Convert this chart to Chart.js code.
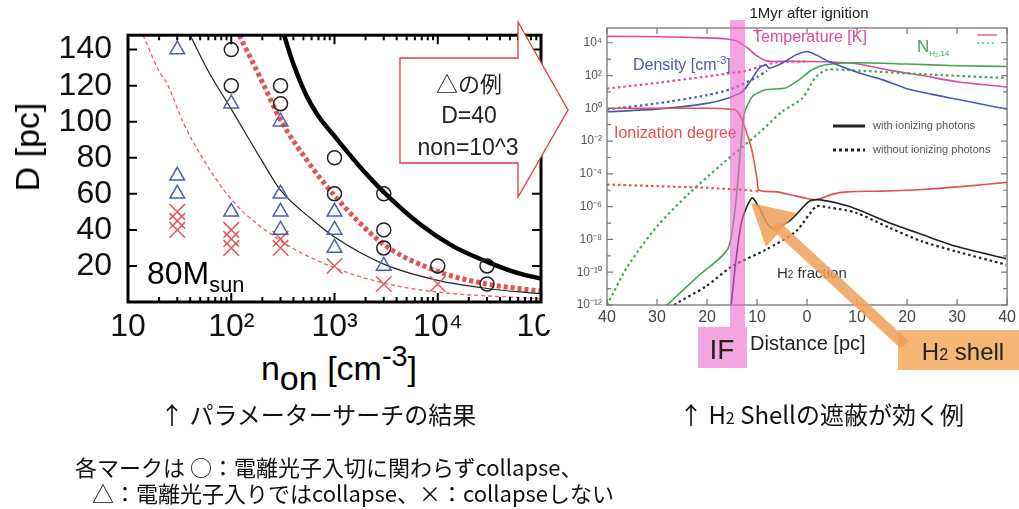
<!DOCTYPE html>
<html>
<head>
<meta charset="utf-8">
<script src="https://cdn.jsdelivr.net/npm/chart.js@4.4.1/dist/chart.umd.min.js"></script>
<style>
  body { margin: 0; width: 1019px; height: 509px; background: #fff; position: relative; overflow: hidden;
         font-family: "Liberation Sans", Arial, sans-serif; }
  #left { position: absolute; left: 0; top: 0; width: 600px; height: 340px; }
  #right { position: absolute; left: 545px; top: 0; width: 474px; height: 330px; background: #fff; }
  .t { position: absolute; white-space: nowrap; line-height: 1; }
  .jp { font-family: "Noto Sans CJK JP", sans-serif; color: #111; }
  svg { position: absolute; left: 0; top: 0; }
</style>
</head>
<body>
<div id="left"><canvas id="cLeft"></canvas></div>
<div id="right"><canvas id="cRight"></canvas></div>

<!-- left panel texts -->
<div class="t" style="left:27px;top:147px;font-size:34px;transform:translate(-50%,-50%) rotate(-90deg);">D [pc]</div>
<div class="t" style="left:339px;top:351px;font-size:34px;transform:translateX(-50%);">n<span style="position:relative;top:0.28em;">on</span> [cm<span style="position:relative;top:-0.5em;font-size:0.85em;">-3</span>]</div>
<div class="t" style="left:147px;top:257px;font-size:32px;">80M<span style="position:relative;top:0.35em;font-size:0.68em;">sun</span></div>

<!-- right panel texts -->
<div class="t" style="left:809px;top:5px;font-size:15px;color:#222;transform:translateX(-50%);">1Myr after ignition</div>
<div class="t" style="left:753px;top:29px;font-size:16px;color:#e0479e;">Temperature [K]</div>
<div class="t" style="left:917px;top:38px;font-size:17px;color:#3eaa50;">N<span style="font-size:8px;position:relative;top:4px;">H₂,14</span></div>
<div class="t" style="left:633px;top:57px;font-size:16px;color:#4a58b5;">Density [cm<span style="font-size:11px;position:relative;top:-6px;">-3</span>]</div>
<div class="t" style="left:614px;top:125px;font-size:16px;color:#e2524c;">Ionization degree</div>
<div class="t" style="left:777px;top:265px;font-size:15px;color:#333;">H<span style="font-size:10px;">2</span> fraction</div>
<div class="t" style="left:873px;top:120px;font-size:11px;color:#555;">with ionizing photons</div>
<div class="t" style="left:873px;top:144px;font-size:11px;color:#555;">without ionizing photons</div>
<div class="t" style="left:750px;top:333px;font-size:20px;color:#222;">Distance [pc]</div>

<svg width="1019" height="509">
  <!-- legend marks in the right panel -->
  <line x1="833" y1="126" x2="865" y2="126" stroke="#222" stroke-width="3"/>
  <line x1="833" y1="150" x2="865" y2="150" stroke="#222" stroke-width="3" stroke-dasharray="3,3"/>
  <line x1="977" y1="35" x2="997" y2="35" stroke="#f08a9c" stroke-width="2"/>
  <line x1="977" y1="43" x2="997" y2="43" stroke="#8fd49a" stroke-width="2" stroke-dasharray="2,3"/>
  <!-- big callout arrow -->
  <polygon points="400,58 518,58 518,22 568,110 518,197 518,163 400,163" fill="#fff" stroke="#e23b3b" stroke-width="1.3"/>
  <!-- IF band -->
  <rect x="730" y="20" width="15" height="307" fill="rgba(237,103,203,0.6)"/>
  <rect x="698" y="327" width="49" height="41" fill="#f3a6df"/>
  <!-- H2 shell box and arrow -->
  <rect x="898" y="330" width="121" height="40" fill="#f6b676"/>
  <line x1="905" y1="345" x2="775" y2="225" stroke="rgba(238,160,90,0.85)" stroke-width="11"/>
  <polygon points="751,203 796,213 766,247" fill="rgba(238,160,90,0.85)"/>
</svg>

<div class="t" style="left:469px;top:71px;font-size:22px;transform:translateX(-50%);font-family:'Noto Sans CJK JP',sans-serif;color:#222;">△の例</div>
<div class="t" style="left:469px;top:104px;font-size:23px;transform:translateX(-50%);color:#222;">D=40</div>
<div class="t" style="left:468px;top:136px;font-size:23px;transform:translateX(-50%);color:#222;">non=10^3</div>
<div class="t" style="left:722px;top:336px;font-size:28px;transform:translateX(-50%);color:#222;">IF</div>
<div class="t" style="left:963px;top:340px;font-size:24px;transform:translateX(-50%);color:#222;">H<span style="font-size:16px;">2</span> shell</div>

<!-- captions -->
<div class="t jp" style="left:160px;top:402px;font-size:24px;">↑ パラメーターサーチの結果</div>
<div class="t jp" style="left:679px;top:402px;font-size:24px;">↑ H<span style="font-size:16px;">2</span> Shellの遮蔽が効く例</div>
<div class="t jp" style="left:75px;top:455px;font-size:22px;">各マークは ○：電離光子入切に関わらずcollapse、</div>
<div class="t jp" style="left:92px;top:481px;font-size:22px;">△：電離光子入りではcollapse、×：collapseしない</div>

<script>
// ---- left panel: parameter search (n_on [cm^-3], D [pc]) ----
const leftXTickValues = [10, 100, 1000, 10000, 100000];
const leftXTickLabels = ['10', '10²', '10³', '10⁴', '10⁵'];
const leftYTicks = [20, 40, 60, 80, 100, 120, 140];

const collapseAlways = [[100, 140], [100, 120], [300, 120], [300, 110], [1000, 80], [1000, 60],
  [3000, 60], [3000, 40], [3000, 30], [10000, 20], [30000, 20], [30000, 10]];
const collapseWithIon = [[30, 140], [30, 70], [30, 60], [100, 110], [100, 50], [300, 100], [300, 60],
  [300, 50], [300, 40], [1000, 50], [1000, 40], [1000, 30], [3000, 20]];
const noCollapse = [[30, 50], [30, 45], [30, 40], [100, 40], [100, 35], [100, 30], [300, 35], [300, 30],
  [1000, 20], [3000, 10], [10000, 10]];

const thickBlackCurve = [[325, 148], [400, 132], [530, 115], [700, 103], [1000, 92], [1760, 75], [3000, 61],
  [6800, 43], [14000, 31], [31000, 22], [60000, 16], [100000, 13]];
const thinBlackCurve = [[40, 148], [60, 128], [100, 107], [200, 78], [300, 62], [600, 46], [1000, 36],
  [3000, 21], [10000, 12], [30000, 7.5], [100000, 4.5]];
const thickRedCurve = [[120, 148], [200, 122], [300, 101], [520, 80], [1000, 59], [3000, 32], [10000, 17],
  [30000, 10], [100000, 6]];
const thinRedCurve = [[14, 148], [20, 128], [24, 121], [34, 100], [50, 82], [100, 57], [300, 34],
  [1000, 19], [3000, 10.5], [10000, 5.5], [100000, 1.8]];

// ---- right panel: profiles 1 Myr after ignition ([distance pc, log10 value]) ----
const rightXTickValues = [-40, -30, -20, -10, 0, 10, 20, 30, 40];
const rightXTickLabels = ['40', '30', '20', '10', '0', '10', '20', '30', '40'];
const rightYTickExps = [-12, -11, -10, -9, -8, -7, -6, -5, -4, -3, -2, -1, 0, 1, 2, 3, 4];

const tempOn = [[-40, 4.39], [-30, 4.37], [-20, 4.3], [-16, 4.23], [-14, 4.1], [-12, 3.7], [-10, 3.2], [-8, 2.88],
  [-4, 2.87], [0, 2.86], [5, 2.83], [10, 2.72], [17, 2.3], [23, 2.0], [30, 1.62], [35, 1.45], [40, 1.3]];
const tempOff = [[-40, 1.2], [-30, 1.55], [-20, 1.95], [-12, 2.3], [-9, 2.6], [-6, 2.8], [0, 2.86]];
const densOn = [[-40, -0.21], [-30, -0.05], [-20, 0.3], [-16, 0.6], [-13, 1.0], [-11, 1.8], [-9.6, 2.45],
  [-8.2, 2.65], [-7.6, 2.45], [-5, 2.75], [-2.2, 3.26], [0, 3.47], [1.8, 3.26], [4.4, 2.85], [10, 2.2],
  [15, 1.75], [20, 1.2], [25, 0.85], [30, 0.55], [35, 0.25], [40, -0.05]];
const densOff = [[-40, -0.07], [-30, 0.3], [-20, 0.8], [-15, 1.2], [-10, 1.9], [-8, 2.3]];
const ionOn = [[-40, 0], [-20, 0], [-15.5, -0.05], [-14, -0.15], [-12.5, -1.1], [-11, -2.6], [-10, -4.3],
  [-9.6, -5.0], [-6, -5.1], [-3, -5.3], [0, -5.5], [2, -5.57], [5, -5.25], [8, -5.1], [15, -5.05],
  [23, -4.95], [32, -4.75], [40, -4.52]];
const ionOff = [[-40, -4.65], [-30, -4.75], [-20, -4.85], [-12, -5.0], [-9.6, -5.07]];
const nh2On = [[-30, -12.6], [-28, -12], [-22, -10.3], [-15.6, -8.4], [-12.6, -0.4], [-10.9, 0.73],
  [-8.3, 1.13], [-4.3, 1.24], [-1.6, 1.74], [1, 2.35], [3.7, 2.66], [10, 2.78], [20, 2.7], [30, 2.6], [40, 2.55]];
const nh2Off = [[-40, -12], [-36, -9.7], [-30, -7.2], [-23.6, -5.2], [-17, -3.4], [-9.6, -1.5], [-5, -0.2],
  [-1, 0.6], [1.8, 1.93], [4, 2.35], [10, 2.3], [25, 2.05], [40, 1.85]];
const h2On = [[-15.3, -12.5], [-15.2, -12.08], [-14.2, -9.23], [-13, -6.8], [-11, -5.47], [-9.6, -6.06],
  [-7.2, -7.28], [-3.6, -6.9], [0.4, -5.68], [2.4, -5.57], [8.4, -5.98], [16.4, -6.98], [23, -7.7],
  [29.8, -8.42], [39.8, -9.17]];
const h2Off = [[-28, -12.5], [-27, -12.08], [-20.2, -10.86], [-15, -9.64], [-8.2, -8.62], [-2.2, -7.5],
  [1.8, -6.0], [4.4, -6.05], [9.8, -6.37], [16.4, -7.28], [23, -8.12], [29.8, -8.73], [39.8, -9.54]];

Chart.defaults.font.family = '"Liberation Sans", Arial, sans-serif';
Chart.defaults.animation = false;

const pts = arr => arr.map(([x, y]) => ({ x, y }));
const logPts = arr => arr.map(([x, e]) => ({ x, y: Math.pow(10, e) }));

// frame with inward ticks on all four sides, gnuplot style
const frameTicks = {
  id: 'frameTicks',
  afterDatasetsDraw(chart, args, o) {
    const { ctx, chartArea: a, scales: { x, y } } = chart;
    ctx.save();
    ctx.strokeStyle = o.color;
    ctx.lineWidth = o.tickWidth;
    ctx.beginPath();
    o.xTicks(x).forEach(([v, len]) => {
      const px = x.getPixelForValue(v);
      ctx.moveTo(px, a.bottom); ctx.lineTo(px, a.bottom - len);
      ctx.moveTo(px, a.top); ctx.lineTo(px, a.top + len);
    });
    o.yTicks(y).forEach(([v, len]) => {
      const py = y.getPixelForValue(v);
      ctx.moveTo(a.left, py); ctx.lineTo(a.left + len, py);
      ctx.moveTo(a.right, py); ctx.lineTo(a.right - len, py);
    });
    ctx.stroke();
    ctx.lineWidth = o.frameWidth;
    ctx.strokeRect(a.left, a.top, a.right - a.left, a.bottom - a.top);
    ctx.restore();
  }
};

function curve(data, color, width, dash) {
  return { type: 'line', data: pts(data), borderColor: color, borderWidth: width, borderDash: dash,
    pointRadius: 0, cubicInterpolationMode: 'monotone', fill: false };
}
function marks(data, style, color, r) {
  return { type: 'scatter', data: pts(data), pointStyle: style, pointRadius: r, pointBorderWidth: 1.5,
    pointBorderColor: color, pointBackgroundColor: 'rgba(0,0,0,0)', borderColor: color };
}

new Chart(document.getElementById('cLeft'), {
  type: 'scatter',
  data: {
    datasets: [
      marks(collapseAlways, 'circle', '#222', 7),
      marks(collapseWithIon, 'triangle', '#4f5fb5', 8.5),
      marks(noCollapse, 'crossRot', '#e35a5a', 11),
      curve(thickBlackCurve, '#000', 4.5, []),
      curve(thinBlackCurve, '#222', 1.2, []),
      curve(thickRedCurve, '#e8504f', 5, [4, 3]),
      curve(thinRedCurve, '#e86060', 1.3, [4, 3])
    ]
  },
  options: {
    responsive: true,
    maintainAspectRatio: false,
    layout: { padding: { left: 0, top: 23, right: 59, bottom: 0 } },
    plugins: {
      legend: { display: false }, tooltip: { enabled: false },
      frameTicks: {
        color: '#000', tickWidth: 2, frameWidth: 3,
        xTicks: () => leftXTickValues.slice(0, -1).flatMap(d => [1, 2, 3, 4, 5, 6, 7, 8, 9].map(m => [d * m, m === 1 ? 9 : 5])).concat([[100000, 9]]),
        yTicks: () => leftYTicks.map(v => [v, 9])
      }
    },
    scales: {
      x: {
        type: 'logarithmic', min: 10, max: 100000,
        grid: { display: false, drawTicks: false }, border: { display: false },
        afterFit: s => { s.height = 38; },
        ticks: {
          autoSkip: false, maxRotation: 0, minRotation: 0, padding: 6, color: '#111', font: { size: 32 },
          callback: v => { const i = leftXTickValues.indexOf(v); return i >= 0 ? leftXTickLabels[i] : ''; }
        }
      },
      y: {
        min: 0, max: 148,
        grid: { display: false, drawTicks: false }, border: { display: false },
        afterFit: s => { s.width = 128; },
        afterBuildTicks: s => { s.ticks = leftYTicks.map(v => ({ value: v })); },
        ticks: { padding: 16, color: '#111', font: { size: 32 } }
      }
    }
  },
  plugins: [frameTicks]
});

function prof(data, color, dashed) {
  return { data: logPts(data), borderColor: color, borderWidth: dashed ? 2.2 : 1.6,
    borderDash: dashed ? [2.5, 3] : [], pointRadius: 0, tension: 0.25, fill: false };
}

new Chart(document.getElementById('cRight'), {
  type: 'line',
  data: {
    datasets: [
      prof(h2On, '#222', false), prof(h2Off, '#222', true),
      prof(ionOn, '#e2524c', false), prof(ionOff, '#e2524c', true),
      prof(densOn, '#4a58b5', false), prof(densOff, '#4a58b5', true),
      prof(nh2On, '#3eaa50', false), prof(nh2Off, '#3eaa50', true),
      prof(tempOn, '#e0479e', false), prof(tempOff, '#e0479e', true)
    ]
  },
  options: {
    responsive: true,
    maintainAspectRatio: false,
    layout: { padding: { left: 0, top: 28, right: 11, bottom: 0 } },
    plugins: {
      legend: { display: false }, tooltip: { enabled: false },
      frameTicks: {
        color: '#777', tickWidth: 1.2, frameWidth: 1.3,
        xTicks: () => rightXTickValues.map(v => [v, 6]),
        yTicks: () => rightYTickExps.map(e => [Math.pow(10, e), e % 2 === 0 ? 6 : 4])
      }
    },
    scales: {
      x: {
        type: 'linear', min: -40, max: 40,
        grid: { display: false, drawTicks: false }, border: { display: false },
        afterFit: s => { s.height = 25; },
        afterBuildTicks: s => { s.ticks = rightXTickValues.map(v => ({ value: v })); },
        ticks: {
          padding: 3, color: '#444', font: { size: 16 }, maxRotation: 0, autoSkip: false,
          callback: v => rightXTickLabels[rightXTickValues.indexOf(v)]
        }
      },
      y: {
        type: 'logarithmic', min: 1e-12, max: Math.pow(10, 4.9),
        grid: { display: false, drawTicks: false }, border: { display: false },
        afterFit: s => { s.width = 62; },
        afterBuildTicks: s => { s.ticks = rightYTickExps.map(e => ({ value: Math.pow(10, e) })); },
        ticks: {
          padding: 5, color: '#555', font: { size: 12 }, autoSkip: false,
          callback: v => {
            const e = Math.round(Math.log10(v));
            if (e % 2 !== 0) return '';
            const sup = { '-': '⁻', '0': '⁰', '1': '¹', '2': '²', '3': '³', '4': '⁴', '5': '⁵', '6': '⁶', '7': '⁷', '8': '⁸', '9': '⁹' };
            return '10' + String(e).split('').map(c => sup[c]).join('');
          }
        }
      }
    }
  },
  plugins: [frameTicks]
});
</script>
</body>
</html>
